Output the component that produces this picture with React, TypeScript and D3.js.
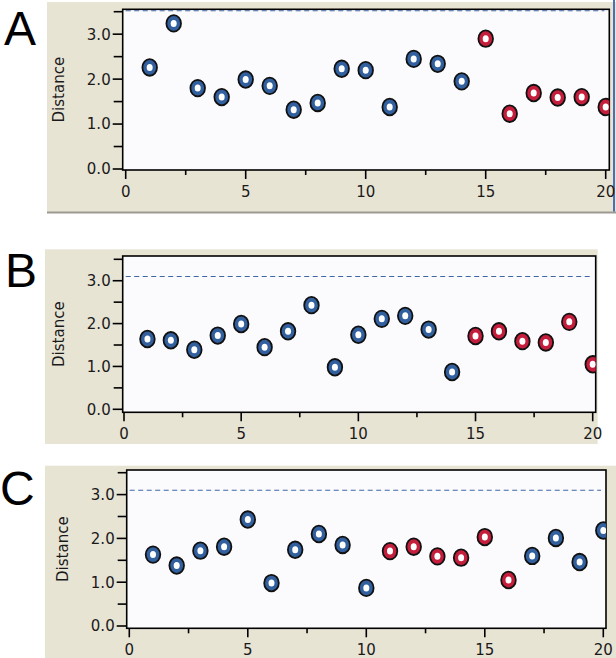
import React from "react";
import * as d3 from "d3";

const xValues = [1, 2, 3, 4, 5, 6, 7, 8, 9, 10, 11, 12, 13, 14, 15, 16, 17, 18, 19, 20];
const seriesA = [2.26, 3.24, 1.8, 1.6, 1.99, 1.85, 1.32, 1.47, 2.23, 2.2, 1.38, 2.45, 2.34, 1.95, 2.9, 1.23, 1.69, 1.59, 1.6, 1.38];
const groupA = ["b", "b", "b", "b", "b", "b", "b", "b", "b", "b", "b", "b", "b", "b", "r", "r", "r", "r", "r", "r"];
const seriesB = [1.64, 1.61, 1.39, 1.72, 1.99, 1.45, 1.82, 2.43, 0.98, 1.74, 2.11, 2.18, 1.86, 0.87, 1.71, 1.82, 1.59, 1.56, 2.04, 1.05];
const groupB = ["b", "b", "b", "b", "b", "b", "b", "b", "b", "b", "b", "b", "b", "b", "r", "r", "r", "r", "r", "r"];
const seriesC = [1.63, 1.38, 1.72, 1.81, 2.43, 0.98, 1.74, 2.1, 1.85, 0.87, 1.71, 1.81, 1.59, 1.56, 2.03, 1.05, 1.6, 2.01, 1.46, 2.18];
const groupC = ["b", "b", "b", "b", "b", "b", "b", "b", "b", "b", "r", "r", "r", "r", "r", "r", "b", "b", "b", "b"];
const thresholds = [3.52, 3.1, 3.1];
const panelLabels = ["A", "B", "C"];
const yTickValues = [0, 1, 2, 3];
const yTickLabels = ["0.0", "1.0", "2.0", "3.0"];
const yMinorTicks = [0.5, 1.5, 2.5, 3.5];
const xTickValues = [0, 5, 10, 15, 20];
const xTickLabels = ["0", "5", "10", "15", "20"];
const xMinorTicks = [2.5, 7.5, 12.5, 17.5];
const yAxisTitle = "Distance";

const BEIGE = "#e8e4d4";
const PLOTBG = "#fbfafc";
const BLUE = "#32609f";
const RED = "#c41e3c";
const DASH = "#3d68a6";
const FONT = "'DejaVu Sans', Arial, sans-serif";

type Layout = {
  bg: [number, number, number, number];
  plot: [number, number, number, number]; // left, top, right, bottom
  x0: number; x20: number;
  y0: number; y35: number;
  letter: [number, number];
};

const layouts: Layout[] = [
  { bg: [47, 2, 616, 212], plot: [122.7, 9.3, 609.3, 170], x0: 125.7, x20: 605.7, y0: 169, y35: 11.7, letter: [4, 44.5] },
  { bg: [45, 249.3, 597.7, 444], plot: [122.7, 256, 595.7, 412.3], x0: 124, x20: 592.7, y0: 409.3, y35: 259.3, letter: [5, 287] },
  { bg: [45, 465.7, 616, 658], plot: [126.7, 470, 606, 628.3], x0: 129.3, x20: 603.3, y0: 626, y35: 472.7, letter: [0, 505] },
];

const allSeries = [seriesA, seriesB, seriesC];
const allGroups = [groupA, groupB, groupC];

function Panel({ idx }: { idx: number }) {
  const L = layouts[idx];
  const values = allSeries[idx];
  const groups = allGroups[idx];
  const [pl, pt, pr, pb] = L.plot;
  const x = d3.scaleLinear().domain([0, 20]).range([L.x0, L.x20]);
  const y = d3.scaleLinear().domain([0, 3.5]).range([L.y0, L.y35]);
  const clipId = `clip-${idx}`;
  return (
    <g>
      <rect x={L.bg[0]} y={L.bg[1]} width={L.bg[2] - L.bg[0]} height={L.bg[3] - L.bg[1]} fill={BEIGE} />
      {idx === 0 && (
        <g>
          <line x1={L.bg[0]} x2={616} y1={212.5} y2={212.5} stroke="#9c9a92" strokeWidth={2} />
          <line x1={614} x2={614} y1={0} y2={211.5} stroke="#4a6fb2" strokeWidth={2} />
        </g>
      )}
      <text x={L.letter[0]} y={L.letter[1]} fontFamily="Arial, 'Liberation Sans', sans-serif" fontSize={48} fill="#000">
        {panelLabels[idx]}
      </text>
      <defs>
        <clipPath id={clipId}>
          <rect x={pl} y={pt} width={pr - pl} height={pb - pt} />
        </clipPath>
      </defs>
      <rect x={pl} y={pt} width={pr - pl} height={pb - pt} fill={PLOTBG} stroke="#000" strokeWidth={1.6} />
      <line
        x1={pl + 3}
        x2={pr - 5}
        y1={y(thresholds[idx])}
        y2={y(thresholds[idx])}
        stroke={DASH}
        strokeWidth={1.1}
        strokeDasharray="5,3.5"
      />
      {yTickValues.map((v, i) => (
        <g key={`yt${i}`}>
          <line x1={pl - 10} x2={pl} y1={y(v)} y2={y(v)} stroke="#000" strokeWidth={1.6} />
          <text x={pl - 12} y={y(v)} dy="0.36em" textAnchor="end" fontFamily={FONT} fontSize={15} fill="#1a1a1a">
            {yTickLabels[i]}
          </text>
        </g>
      ))}
      {yMinorTicks.map((v, i) => (
        <line key={`ym${i}`} x1={pl - 9} x2={pl} y1={y(v)} y2={y(v)} stroke="#000" strokeWidth={1.6} />
      ))}
      {xTickValues.map((v, i) => (
        <g key={`xt${i}`}>
          <line x1={x(v)} x2={x(v)} y1={pb} y2={pb + 9} stroke="#000" strokeWidth={1.6} />
          <text x={x(v)} y={pb + 27} textAnchor="middle" fontFamily={FONT} fontSize={15} fill="#1a1a1a">
            {xTickLabels[i]}
          </text>
        </g>
      ))}
      {xMinorTicks.map((v, i) => (
        <line key={`xm${i}`} x1={x(v)} x2={x(v)} y1={pb} y2={pb + 5} stroke="#000" strokeWidth={1.6} />
      ))}
      <text
        transform={`translate(${pl - 64},${(pt + pb) / 2}) rotate(-90)`}
        textAnchor="middle"
        dy="0.35em"
        fontFamily={FONT}
        fontSize={15}
        fill="#1a1a1a"
      >
        {yAxisTitle}
      </text>
      <g clipPath={`url(#${clipId})`}>
        {values.map((v, i) => {
          const cx = x(xValues[i]);
          const cy = y(v);
          const col = groups[i] === "r" ? RED : BLUE;
          return (
            <g key={`p${i}`}>
              <ellipse cx={cx} cy={cy} rx={7.3} ry={8.3} fill={col} stroke="#111" strokeWidth={1.8} />
              <ellipse cx={cx} cy={cy} rx={3} ry={3.5} fill="#fff" />
            </g>
          );
        })}
      </g>
    </g>
  );
}

export default function App() {
  return (
    <svg
      width={616}
      height={658}
      style={{ position: "absolute", left: 0, top: 0, background: "#fff" }}
    >
      {[0, 1, 2].map((i) => (
        <Panel key={i} idx={i} />
      ))}
    </svg>
  );
}
